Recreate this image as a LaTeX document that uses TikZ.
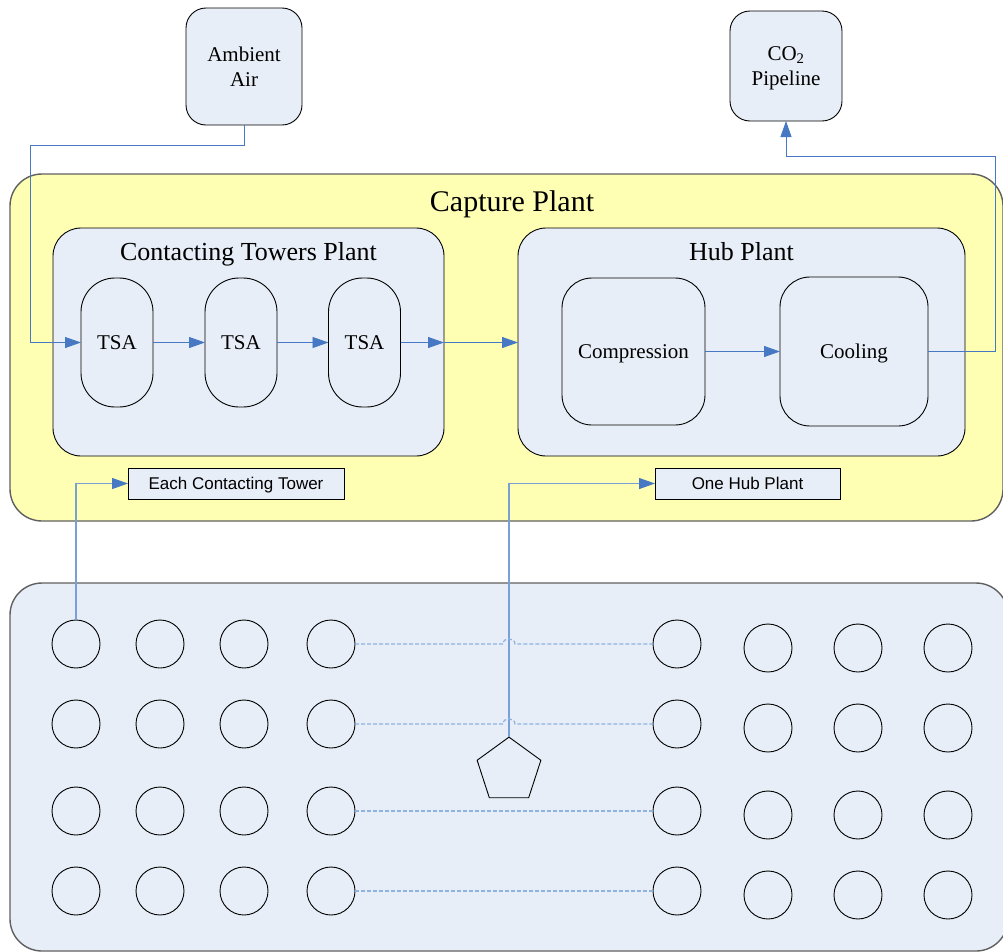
\documentclass[tikz,border=0pt]{standalone}
\usepackage{fontspec}
\setmainfont{Liberation Serif}
\newfontfamily\labelfont{Liberation Sans}
\usetikzlibrary{arrows.meta,shapes.geometric}
\definecolor{boxblue}{RGB}{232,238,247}
\definecolor{capyellow}{RGB}{255,255,180}
\definecolor{conn}{RGB}{70,120,195}
\definecolor{connlight}{RGB}{120,160,215}
\definecolor{dashblue}{RGB}{141,179,226}
\definecolor{edgegray}{RGB}{96,96,96}
\begin{document}
\begin{tikzpicture}[x=1pt,y=-1pt,
  every node/.style={inner sep=0pt,outer sep=0pt},
  bigbox/.style={rectangle,draw=edgegray,line width=1.4pt,rounded corners=32pt},
  plantbox/.style={rectangle,draw=black,line width=0.9pt,fill=boxblue,rounded corners=28pt},
  unitbox/.style={rectangle,draw=black,line width=0.9pt,fill=boxblue,rounded corners=28pt,font=\fontsize{21}{25}\selectfont,align=center,text depth=0pt},
  tsabox/.style={unitbox,rounded corners=34pt,minimum width=72pt,minimum height=129pt},
  termbox/.style={unitbox,rounded corners=20pt},
  tagbox/.style={rectangle,draw=black,line width=0.9pt,fill=boxblue,minimum height=31pt,text depth=0pt,font=\labelfont\fontsize{17}{20}\selectfont},
  tower/.style={circle,draw=black,line width=0.9pt,minimum size=48pt},
  hubsym/.style={regular polygon,regular polygon sides=5,draw=black,line width=0.9pt,minimum size=67pt},
  flow/.style={draw=conn,line width=0.9pt,-{Triangle[length=16pt,width=11pt,color=conn]}},
  link/.style={flow,draw=connlight,line width=1.2pt},
  dashlink/.style={draw=dashblue,line width=1.2pt,dash pattern=on 4pt off 2pt},
  title/.style={anchor=base}
]
\useasboundingbox (0,0) rectangle (1003,951);
\clip (0,0) rectangle (1003,951);

% containers
\node[bigbox,fill=capyellow,minimum width=993pt,minimum height=347pt] (capture) at (506.5,347.5) {};
\node[title,font=\fontsize{30}{36}\selectfont] (captitle) at (512,211) {Capture Plant};
\node[bigbox,fill=boxblue,minimum width=998pt,minimum height=368pt] (field) at (509,767) {};

\node[plantbox,minimum width=391pt,minimum height=228pt] (ctp) at (248.5,342) {};
\node[title,font=\fontsize{26}{30}\selectfont] (ctptitle) at (248.5,260.5) {Contacting Towers Plant};
\node[plantbox,minimum width=447pt,minimum height=228pt] (hub) at (741.5,342) {};
\node[title,font=\fontsize{26}{30}\selectfont] (hubtitle) at (741.5,260.5) {Hub Plant};

% units
\node[tsabox] (tsa1) at (117,342.5) {TSA};
\node[tsabox] (tsa2) at (241,342.5) {TSA};
\node[tsabox] (tsa3) at (364.5,342.5) {TSA};
\node[unitbox,rounded corners=30pt,minimum width=143pt,minimum height=147pt] (comp) at (633.5,351.5) {Compression};
\node[unitbox,rounded corners=30pt,minimum width=148pt,minimum height=149pt] (cool) at (854,351.5) {Cooling};

% terminals
\node[termbox,minimum width=116pt,minimum height=117pt] (air) at (244,66.5) {Ambient\\Air};
\node[termbox,minimum width=112pt,minimum height=110pt] (co2) at (786,66) {CO\textsubscript{2}\\Pipeline};

% tags
\node[tagbox,minimum width=216pt] (ect) at (236,483.5) {Each Contacting Tower};
\node[tagbox,minimum width=185pt] (ohp) at (747.5,483.5) {One Hub Plant};

% towers field
\foreach \r/\y in {1/644,2/724,3/811,4/891} {
  \foreach \c/\x in {1/76,2/160,3/244,4/331,5/677}
    \node[tower] (t\r-\c) at (\x,\y) {};
  \foreach \c/\x in {6/768,7/858,8/948}
    \node[tower] (t\r-\c) at (\x,\y+4) {};
}
\node[hubsym] (hubsite) at (509,770.6) {};

% connectors
\coordinate (airbend) at (30,145);
\draw[flow] (air.south) |- (airbend) |- (tsa1.west);
\draw[flow] (tsa1) -- (tsa2);
\draw[flow] (tsa2) -- (tsa3);
\draw[flow] (tsa3.east) -- (tsa3.east -| ctp.east);
\draw[flow] (tsa3.east -| ctp.east) -- (tsa3.east -| hub.west);
\draw[flow] (comp) -- (cool);
\coordinate (co2bend) at (995,156);
\draw[flow] (cool.east) -| (co2bend) -| (co2.south);

\draw[link] (t1-1.north) |- (ect.west);
\draw[link] (hubsite.corner 1) |- (ohp.west);

\draw[dashlink] (t1-4.east) -- (503,644) .. controls (503,637) and (515,637) .. (515,644) -- (t1-5.west);
\draw[dashlink] (t2-4.east) -- (503,724) .. controls (503,717) and (515,717) .. (515,724) -- (t2-5.west);
\draw[dashlink] (t3-4.east) -- (t3-5.west);
\draw[dashlink] (t4-4.east) -- (t4-5.west);
\end{tikzpicture}
\end{document}
